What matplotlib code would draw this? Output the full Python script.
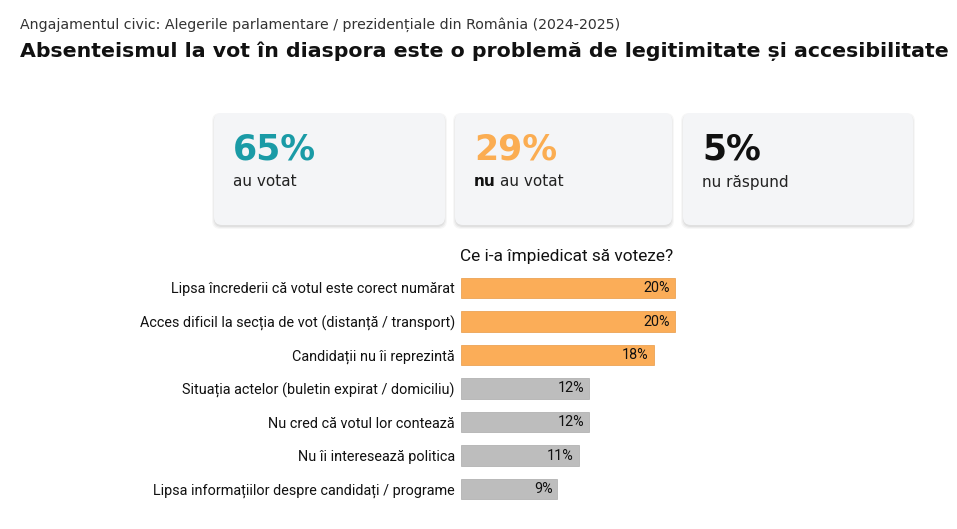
import matplotlib
matplotlib.use("Agg")
import matplotlib.pyplot as plt
from matplotlib.patches import FancyBboxPatch

# summary cards
card_values = ["65%", "29%", "5%"]
card_labels = ["au votat", "au votat", "nu răspund"]
card_colors = ["#1a9ba6", "#fbad52", "#111111"]

# reasons for not voting
reasons = [
    "Lipsa încrederii că votul este corect numărat",
    "Acces dificil la secția de vot (distanță / transport)",
    "Candidații nu îi reprezintă",
    "Situația actelor (buletin expirat / domiciliu)",
    "Nu cred că votul lor contează",
    "Nu îi interesează politica",
    "Lipsa informațiilor despre candidați / programe",
]
shares = [20, 20, 18, 12, 12, 11, 9]
highlight = [True, True, True, False, False, False, False]

W, H = 957, 529
fig = plt.figure(figsize=(W / 100, H / 100), dpi=100)
fig.patch.set_facecolor("white")

# pixel-space background axes for titles and cards
bg = fig.add_axes([0, 0, 1, 1])
bg.set_xlim(0, W)
bg.set_ylim(H, 0)
bg.axis("off")

head_font = ["DejaVu Sans"]
body_font = ["Roboto", "DejaVu Sans"]

bg.text(20, 25, "Angajamentul civic: Alegerile parlamentare / prezidențiale din România (2024-2025)",
        fontsize=10.2, family=head_font, color="#333333", va="center")
bg.text(20, 51, "Absenteismul la vot în diaspora este o problemă de legitimitate și accesibilitate",
        fontsize=14.75, family=head_font, weight="bold", color="#111111", va="center")

cards_x = [(214, 445), (455, 672), (683, 913)]
for (x0, x1), val, lab, col in zip(cards_x, card_values, card_labels, card_colors):
    # soft shadow
    for i, a in enumerate([0.05, 0.04, 0.03]):
        sh = FancyBboxPatch((x0 - i, 113 + 2 - i), x1 - x0 + 2 * i, 112 + 2 * i,
                            boxstyle="round,pad=0,rounding_size=8",
                            fc="black", ec="none", alpha=a, zorder=1)
        bg.add_patch(sh)
    card = FancyBboxPatch((x0, 113), x1 - x0, 112,
                          boxstyle="round,pad=0,rounding_size=8",
                          fc="#f4f5f7", ec="none", zorder=2)
    bg.add_patch(card)
    bg.text(x0 + 19, 149, val, fontsize=25, family=head_font, weight="bold",
            color=col, va="center", zorder=3)

fig.canvas.draw()
renderer = fig.canvas.get_renderer()
for i, ((x0, x1), lab) in enumerate(zip(cards_x, card_labels)):
    if i == 1:
        t = bg.text(x0 + 19, 182, "nu", fontsize=11, family=head_font, weight="bold",
                    color="#111111", va="center", zorder=3)
        ext = t.get_window_extent(renderer)
        bg.text(ext.x1 + 4, 182, lab, fontsize=11, family=head_font,
                color="#222222", va="center", zorder=3)
    else:
        bg.text(x0 + 19, 182, lab, fontsize=11, family=head_font,
                color="#222222", va="center", zorder=3)

bg.text(566.5, 256, "Ce i-a împiedicat să voteze?", fontsize=12.4, family=body_font,
        color="#111111", ha="center", va="center")

# bar axes positioned in pixel terms: 0..25% spans 267.5 px, rows every 33.5 px
left_px, px_per = 461, 10.7
top_px = 288 - 33.5 / 2
bot_px = 489 + 33.5 / 2
ax = fig.add_axes([left_px / W, 1 - bot_px / H, 25 * px_per / W, (bot_px - top_px) / H])
ax.set_xlim(0, 25)
ax.set_ylim(len(reasons) - 0.5, -0.5)
ax.patch.set_alpha(0)
for s in ax.spines.values():
    s.set_visible(False)
ax.set_xticks([])

ypos = list(range(len(reasons)))
colors = ["#fbad58" if h else "#bdbdbd" for h in highlight]
bars = ax.barh(ypos, shares, height=0.6, color=colors,
               edgecolor=["#e89a45" if h else "#aaaaaa" for h in highlight], linewidth=0.5)
for y, v in zip(ypos, shares):
    ax.text(v - 0.45, y, f"{v}%", ha="right", va="center", fontsize=10.4,
            family=body_font, color="#111111")

ax.set_yticks(ypos)
ax.set_yticklabels(reasons, fontsize=10.4, family=body_font, color="#111111")
ax.tick_params(axis="y", length=0, pad=4.5)

fig.savefig("out.png", dpi=100, facecolor="white")
